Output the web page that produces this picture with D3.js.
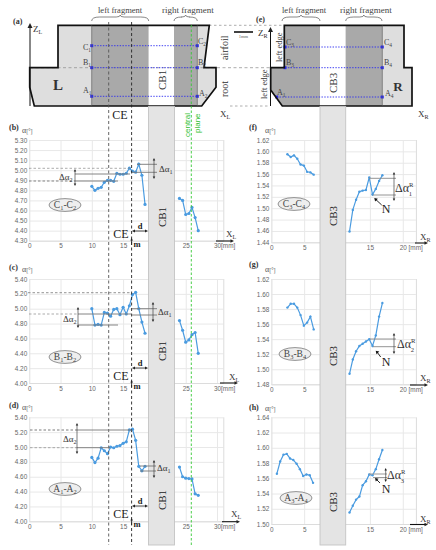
<!DOCTYPE html>
<html>
<head>
<meta charset="utf-8">
<script src="https://cdnjs.cloudflare.com/ajax/libs/d3/7.8.5/d3.min.js"></script>
<style>
  html, body { margin: 0; padding: 0; background: #fff; }
  svg { display: block; }
  text { font-family: "Liberation Serif", serif; fill: #333; }
  .tick text { font-family: "Liberation Sans", sans-serif; font-size: 6.4px; fill: #666; }
  .tick line { stroke: #e8e8e8; }
  .domain { stroke: #dcdcdc; }
</style>
</head>
<body>
<div id="chart"></div>
<script>
// measured positions along the specimen [mm]
const xLeftL = [10, 10.5, 11, 11.5, 12, 12.5, 13, 13.5, 14, 14.5, 15, 15.5, 16, 16.5, 17, 17.5, 18, 18.5];
const xRightL = [24, 24.5, 25, 25.5, 26, 26.5, 27];
const xLeftR = [2.45, 2.95, 3.45, 3.95, 4.45, 4.95, 5.45, 5.95, 6.45];
const xLeftRh = [0.85, 1.35, 1.85, 2.35, 2.85, 3.35, 3.85, 4.35, 4.85, 5.35, 5.85, 6.35];
const xRightR = [11.9, 12.4, 12.9, 13.4, 13.9, 14.4, 14.9, 15.4, 15.9, 16.4, 16.9];

// alpha values, left side joint
const c1c2Left = [4.84, 4.80, 4.82, 4.83, 4.88, 4.90, 4.90, 4.89, 4.97, 4.96, 4.96, 4.97, 5.02, 4.99, 4.98, 5.06, 4.95, 4.66];
const c1c2Right = [4.72, 4.70, 4.56, 4.57, 4.63, 4.53, 4.40];
const b1b2Left = [5.00, 4.78, 4.79, 4.78, 4.95, 4.94, 4.90, 4.99, 5.00, 4.92, 5.02, 4.93, 5.04, 5.19, 5.22, 5.00, 4.82, 4.67];
const b1b2Right = [4.84, 4.71, 4.55, 4.58, 4.65, 4.68, 4.40];
const a1a2Left = [4.86, 4.79, 4.85, 4.99, 4.95, 4.91, 5.00, 4.99, 5.01, 5.02, 5.05, 5.07, 5.23, 5.24, 5.09, 4.74, 4.68, 4.74];
const a1a2Right = [4.73, 4.60, 4.58, 4.575, 4.57, 4.37, 4.35];

// alpha values, right side joint
const c3c4Left = [1.595, 1.590, 1.593, 1.587, 1.577, 1.575, 1.564, 1.563, 1.559];
const c3c4Right = [1.459, 1.497, 1.515, 1.529, 1.531, 1.532, 1.554, 1.524, 1.534, 1.548, 1.558];
const b3b4Left = [1.582, 1.587, 1.587, 1.582, 1.572, 1.558, 1.562, 1.570, 1.553];
const b3b4Right = [1.494, 1.513, 1.524, 1.531, 1.534, 1.537, 1.540, 1.531, 1.545, 1.570, 1.588];
const a3a4Left = [1.566, 1.582, 1.591, 1.592, 1.586, 1.584, 1.579, 1.572, 1.563, 1.565, 1.564, 1.554];
const a3a4Right = [1.515, 1.524, 1.532, 1.536, 1.551, 1.556, 1.565, 1.564, 1.572, 1.585, 1.597];

// tick labels
const xTicksL = [0, 5, 10, 15, 20, 25, 30];
const xTicksR = [0, 5, 10, 15, 20];
const yTicksB = [4.30, 4.40, 4.50, 4.60, 4.70, 4.80, 4.90, 5.00, 5.10, 5.20, 5.30];
const yTicksCD = [4.00, 4.20, 4.40, 4.60, 4.80, 5.00, 5.20, 5.40];
const yTicksF = [1.44, 1.46, 1.48, 1.50, 1.52, 1.54, 1.56, 1.58, 1.60, 1.62];
const yTicksG = [1.48, 1.50, 1.52, 1.54, 1.56, 1.58, 1.60, 1.62];
const yTicksH = [1.50, 1.52, 1.54, 1.56, 1.58, 1.60, 1.62, 1.64];

const svg = d3.select("#chart").append("svg").attr("width", 436).attr("height", 550);

const lineBlue = "#4a9be0", gridGreen = "#35c935", blue = "#2b2bf0";

// text with optional subscript / superscript
function label(x, y, base, opts) {
  opts = opts || {};
  const size = opts.size || 9;
  const t = svg.append("text").attr("x", x).attr("y", y).attr("font-size", size)
    .attr("text-anchor", opts.anchor || "start")
    .attr("font-weight", opts.bold ? "bold" : null)
    .style("fill", opts.color || null)
    .text(base);
  if (opts.rotate) t.attr("transform", `rotate(-90 ${x} ${y})`);
  if (opts.sup) {
    t.append("tspan").attr("font-size", size * 0.55).attr("dy", -size * 0.4).text(opts.sup);
    t.append("tspan").attr("font-size", size * 0.55).attr("dy", size * 0.75).attr("dx", -size * 0.38).text(opts.sub);
  } else if (opts.sub) {
    t.append("tspan").attr("font-size", size * 0.68).attr("dy", size * 0.25).text(opts.sub);
    if (opts.rest) t.append("tspan").attr("dy", -size * 0.25).text(opts.rest);
    if (opts.sub2) t.append("tspan").attr("font-size", size * 0.68).attr("dy", size * 0.25).text(opts.sub2);
  }
  return t;
}

function seg(x1, y1, x2, y2, color, w, dash) {
  svg.append("line").attr("x1", x1).attr("y1", y1).attr("x2", x2).attr("y2", y2)
    .attr("stroke", color || "#777").attr("stroke-width", w || 0.8)
    .attr("stroke-dasharray", dash || null);
}

function arrowHead(x, y, dir, size, color) {
  const s = size || 3, c = color || "#222";
  const pts = {
    up: [[x, y], [x - s / 2, y + s], [x + s / 2, y + s]],
    down: [[x, y], [x - s / 2, y - s], [x + s / 2, y - s]],
    left: [[x, y], [x + s, y - s / 2], [x + s, y + s / 2]],
    right: [[x, y], [x - s, y - s / 2], [x - s, y + s / 2]]
  }[dir];
  svg.append("path").attr("d", d3.line()(pts) + "Z").attr("fill", c);
}

function brace(x0, x1, y) {
  const mid = (x0 + x1) / 2;
  svg.append("path")
    .attr("d", `M${x0},${y + 5} Q${x0},${y + 1} ${x0 + 8},${y + 1} L${mid - 4},${y + 1} Q${mid},${y + 1} ${mid},${y - 1} Q${mid},${y + 1} ${mid + 4},${y + 1} L${x1 - 8},${y + 1} Q${x1},${y + 1} ${x1},${y + 5}`)
    .attr("fill", "none").attr("stroke", "#555").attr("stroke-width", 0.7);
}

function panelPlot(cfg) {
  const x = d3.scaleLinear().domain(cfg.xDomain).range(cfg.xRange);
  const y = d3.scaleLinear().domain(cfg.yDomain).range(cfg.yRange);
  const left = cfg.xRange[0], right = cfg.xRange[1], bottom = cfg.yRange[0], top = cfg.yRange[1];

  const gy = svg.append("g").attr("transform", `translate(${left},0)`)
    .call(d3.axisLeft(y).tickValues(cfg.yTicks).tickFormat(d3.format(".2f")).tickSize(-(right - left)).tickPadding(2));
  gy.select(".domain").remove();

  const gx = svg.append("g").attr("transform", `translate(0,${bottom})`)
    .call(d3.axisBottom(x).tickValues(cfg.xTicks).tickFormat(d3.format("d")).tickSize(-(bottom - top)).tickPadding(3));
  gx.selectAll(".tick").filter(d => d === cfg.xTicks[cfg.xTicks.length - 1]).select("text")
    .text(d => d + cfg.unit).attr("text-anchor", "start").attr("x", -3.6);
  return { x, y };
}

function series(p, xs, ys, r) {
  const pts = xs.map((d, i) => [d, ys[i]]);
  svg.append("path").attr("fill", "none").attr("stroke", lineBlue).attr("stroke-width", 1.2)
    .attr("d", d3.line().x(d => p.x(d[0])).y(d => p.y(d[1]))(pts));
  svg.append("g").selectAll("circle").data(pts).join("circle")
    .attr("cx", d => p.x(d[0])).attr("cy", d => p.y(d[1])).attr("r", r).attr("fill", lineBlue);
}

// ---- charts ----
const lX = { xDomain: [0, 31], xRange: [29.2, 223.3], xTicks: xTicksL, unit: "[mm]" };
const rX = { xDomain: [0, 22], xRange: [271.3, 415.9], xTicks: xTicksR, unit: " [mm]" };

const pB = panelPlot({ ...lX, yDomain: [4.30, 5.30], yRange: [240.7, 140], yTicks: yTicksB });
const pC = panelPlot({ ...lX, yDomain: [4.00, 5.40], yRange: [383, 279], yTicks: yTicksCD });
const pD = panelPlot({ ...lX, yDomain: [4.00, 5.40], yRange: [521.3, 417.3], yTicks: yTicksCD });
const pF = panelPlot({ ...rX, yDomain: [1.44, 1.62], yRange: [242.3, 140], yTicks: yTicksF });
const pG = panelPlot({ ...rX, yDomain: [1.48, 1.62], yRange: [384.3, 279], yTicks: yTicksG });
const pH = panelPlot({ ...rX, yDomain: [1.50, 1.64], yRange: [524, 417.3], yTicks: yTicksH });

// ---- diagram (a) ----
const outlineA = [[58, 25.3], [209.3, 25.3], [204, 67.7], [216, 67.7], [216, 87.3], [201.7, 106], [34.3, 106], [29.7, 87.3], [29.7, 67.7], [58, 67.7]];
const outlineE = [[284.3, 25.3], [404, 25.3], [404, 67.7], [412, 67.7], [412, 106], [282.3, 106], [270.7, 90], [270.7, 67.7], [284.3, 67.7]];
const polyPath = d3.line().curve(d3.curveLinearClosed);

svg.append("path").attr("d", polyPath(outlineA)).attr("fill", "#dedede");
svg.append("rect").attr("x", 91.7).attr("y", 25.3).attr("width", 57).attr("height", 80.7).attr("fill", "#a9a9a9");
svg.append("rect").attr("x", 148.7).attr("y", 25.3).attr("width", 25.3).attr("height", 80.7).attr("fill", "#fff");
svg.append("rect").attr("x", 174).attr("y", 25.3).attr("width", 23.3).attr("height", 80.7).attr("fill", "#a9a9a9");

svg.append("path").attr("d", polyPath(outlineE)).attr("fill", "#dedede");
svg.append("path").attr("d", polyPath([[284.3, 25.3], [320, 25.3], [320, 106], [282.3, 106], [270.7, 90], [270.7, 67.7], [284.3, 67.7]])).attr("fill", "#a9a9a9");
svg.append("rect").attr("x", 320).attr("y", 25.3).attr("width", 25.7).attr("height", 80.7).attr("fill", "#fff");
svg.append("rect").attr("x", 345.7).attr("y", 25.3).attr("width", 36.6).attr("height", 80.7).attr("fill", "#a9a9a9");

// guide lines between the two diagrams
seg(209, 25.3, 284, 25.3, "#999", 0.8, "2.5 2.5");
seg(30, 67.7, 300, 67.7, "#888", 0.7, "3 2.5");
seg(230, 106, 270, 106, "#999", 0.8, "2.5 2.5");

// blue measuring lines
[[91.7, 197.3, 45.7], [91.7, 197.3, 67.7], [91.7, 197.3, 96.3], [285, 382.3, 47], [285, 382.3, 67.7], [276.7, 382.3, 97]].forEach(d => {
  seg(d[0], d[2], d[1], d[2], blue, 0.9, "1.4 1.4");
  [d[0], d[1]].forEach(px => svg.append("rect").attr("x", px - 1.5).attr("y", d[2] - 1.5).attr("width", 3).attr("height", 3).attr("fill", blue));
});

svg.append("path").attr("d", polyPath(outlineA)).attr("fill", "none").attr("stroke", "#111").attr("stroke-width", 1.7);
svg.append("path").attr("d", polyPath(outlineE)).attr("fill", "none").attr("stroke", "#111").attr("stroke-width", 1.7);

// separating edges
seg(91.7, 25.3, 91.7, 106, "#555", 0.6);
seg(197.3, 25.3, 197.3, 106, "#555", 0.6);
seg(382.3, 25.3, 382.3, 106, "#555", 0.6);

// coordinate axes of the diagrams
seg(30, 106, 30, 27, "#111", 1);
arrowHead(30, 23, "up", 5);
seg(270.5, 106, 270.5, 30, "#111", 1);
arrowHead(270.5, 27, "up", 5);

label(13, 24, "(a)", { size: 8, bold: true });
label(33, 32, "Z", { size: 9, sub: "L" });
label(98, 13, "left fragment", { size: 8.5, color: "#444" });
label(162, 13, "right fragment", { size: 9, color: "#444" });
brace(91.7, 148.7, 16);
brace(174, 197.3, 16);
label(53, 90, "L", { size: 15, bold: true });
label(166, 90, "CB1", { size: 11, rotate: true });
label(83, 50, "C", { size: 8, sub: "1", color: "#444" });
label(83, 65, "B", { size: 8, sub: "1", color: "#444" });
label(83, 93, "A", { size: 8, sub: "1", color: "#444" });
label(198, 44, "C", { size: 8, sub: "2", color: "#444" });
label(198, 65, "B", { size: 8, sub: "2", color: "#444" });
label(199, 96, "A", { size: 8, sub: "2", color: "#444" });
label(228, 60, "airfoil", { size: 10, rotate: true, color: "#333" });
label(228, 97, "root", { size: 10, rotate: true, color: "#333" });
label(220, 117, "X", { size: 9, sub: "L" });
seg(234, 32, 253, 32, "#111", 1.6);
label(243.5, 38, "1mm", { size: 4.5, anchor: "middle", color: "#555" });

// diagram (e) labels
label(256, 22, "(e)", { size: 8, bold: true });
label(258, 36, "Z", { size: 9, sub: "R" });
label(282, 13, "left fragment", { size: 8.5, color: "#444" });
label(340, 13, "right fragment", { size: 9, color: "#444" });
brace(282, 320, 16);
brace(345.7, 382, 16);
label(398, 91, "R", { size: 13, bold: true, anchor: "middle" });
label(337, 93, "CB3", { size: 11, rotate: true });
label(282, 62, "left edge", { size: 8.5, rotate: true, color: "#333" });
label(267, 99, "left edge", { size: 8.5, rotate: true, color: "#333" });
label(286, 45, "C", { size: 8, sub: "3", color: "#444" });
label(286, 65, "B", { size: 8, sub: "3", color: "#444" });
label(277, 95, "A", { size: 8, sub: "1", color: "#444" });
label(384, 45, "C", { size: 8, sub: "4", color: "#444" });
label(384, 65, "B", { size: 8, sub: "4", color: "#444" });
label(385, 96, "A", { size: 8, sub: "4", color: "#444" });
label(418, 117, "X", { size: 9, sub: "R" });

// ---- grey bands of the CB regions ----
[[148.5, 174.5], [320, 345.7]].forEach(b => {
  svg.append("rect").attr("x", b[0]).attr("y", 106.5).attr("width", b[1] - b[0]).attr("height", 438.5)
    .attr("fill", "#e4e4e4").attr("stroke", "#c4c4c4").attr("stroke-width", 0.9);
});

// ---- series ----
series(pB, xLeftL, c1c2Left, 1.6);
series(pB, xRightL, c1c2Right, 1.6);
series(pC, xLeftL, b1b2Left, 1.6);
series(pC, xRightL, b1b2Right, 1.6);
series(pD, xLeftL, a1a2Left, 1.6);
series(pD, xRightL, a1a2Right, 1.6);
series(pF, xLeftR, c3c4Left, 1.2);
series(pF, xRightR, c3c4Right, 1.2);
series(pG, xLeftR, b3b4Left, 1.2);
series(pG, xRightR, b3b4Right, 1.2);
series(pH, xLeftRh, a3a4Left, 1.2);
series(pH, xRightR, a3a4Right, 1.2);

// ---- CE boundaries and central plane run through the left column ----
seg(108.7, 22, 108.7, 545, "#555", 0.9, "3 2.5");
seg(131.6, 22, 131.6, 545, "#222", 0.9, "3 2.5");
seg(191.3, 25, 191.3, 545, gridGreen, 0.9, "2.5 2");
label(120, 119, "CE", { size: 12, anchor: "middle", color: "#222" });
label(190, 137, "central", { size: 8, rotate: true, color: "#2fbf2f" }).style("font-family", "Liberation Sans");
label(200, 133, "plane", { size: 8, rotate: true, color: "#2fbf2f" }).style("font-family", "Liberation Sans");

// ---- annotations per panel ----
function leftNotes(n) {
  label(9, n.letterY, n.letter, { size: 8, bold: true });
  label(22, n.alphaY, "α", { size: 8, color: "#555" }).append("tspan").attr("font-size", 6).text("[°]");
  svg.append("ellipse").attr("cx", 65).attr("cy", n.ellY).attr("rx", 16).attr("ry", 6.4)
    .attr("fill", "#eee").attr("stroke", "#666").attr("stroke-width", 0.7);
  label(65, n.ellY + 3, n.name[0], { size: 9.5, anchor: "middle", sub: n.name[1], rest: "-" + n.name[2], sub2: n.name[3], color: "#444" });
  label(121, n.ceY, "CE", { size: 12, anchor: "middle", color: "#222" });
  seg(134, n.dY, 146, n.dY, "#222", 0.8);
  arrowHead(132, n.dY, "left", 3);
  arrowHead(148, n.dY, "right", 3);
  label(140, n.dY - 2.5, "d", { size: 8.5, bold: true, anchor: "middle", color: "#222" });
  label(133.5, n.mY, "m", { size: 8.5, bold: true, color: "#222" });
  seg(131.6, n.mY - 7, 131.6, n.mY - 2, "#222", 0.9);
  arrowHead(131.6, n.mY - 9, "up", 2.5);
  label(166, n.cbY, "CB1", { size: 11, rotate: true, anchor: "middle", color: "#222" });
  label(n.xlX, n.xlY, "X", { size: 9, sub: "L" });
  seg(n.arrow[0], n.arrow[2], n.arrow[1] - 3, n.arrow[2], "#111", 1.1);
  arrowHead(n.arrow[1], n.arrow[2], "right", 3.5);
}

function dAlpha(x, y1, y2) {
  seg(x, y1 + 2, x, y2 - 2, "#444", 0.7);
  arrowHead(x, y1, "up", 2.5);
  arrowHead(x, y2, "down", 2.5);
}

leftNotes({ letter: "(b)", letterY: 130, alphaY: 133, name: ["C", "1", "C", "2"], ellY: 205, ceY: 238, dY: 231, mY: 247, cbY: 217, xlX: 226, xlY: 237, arrow: [216, 234, 241] });
seg(29, 168.3, 130, 168.3, "#888", 0.7, "2.5 2");
seg(29, 181, 75, 181, "#555", 0.7, "2.5 2");
seg(75, 174, 130, 174, "#777", 0.9);
seg(75, 181, 118, 181, "#777", 0.9);
dAlpha(75, 169, 186);
label(59, 180, "Δα", { size: 9, sub: "2", color: "#333" });
seg(137, 164.3, 157, 164.3, "#777", 0.9);
seg(132, 172.3, 157, 172.3, "#777", 0.9);
dAlpha(154, 158, 179);
label(159, 172, "Δα", { size: 9, sub: "1", color: "#333" });

leftNotes({ letter: "(c)", letterY: 270, alphaY: 272, name: ["B", "1", "B", "2"], ellY: 357, ceY: 380, dY: 368, mY: 389, cbY: 351, xlX: 229, xlY: 380, arrow: [220, 238, 383] });
seg(28, 292.7, 131, 292.7, "#666", 0.7, "2.5 2");
seg(29, 314, 78, 314, "#888", 0.7, "2.5 2");
seg(78, 314, 131, 314, "#777", 0.9);
seg(78, 325, 118, 325, "#777", 0.9);
dAlpha(78, 307, 328);
label(63, 322, "Δα", { size: 9, sub: "2", color: "#333" });
seg(132, 308.7, 157, 308.7, "#777", 0.9);
seg(132, 315, 157, 315, "#777", 0.9);
dAlpha(153, 302, 322);
label(158, 315, "Δα", { size: 9, sub: "1", color: "#333" });

leftNotes({ letter: "(d)", letterY: 408, alphaY: 410, name: ["A", "1", "A", "2"], ellY: 489, ceY: 518, dY: 506, mY: 527, cbY: 500, xlX: 231, xlY: 517, arrow: [222, 240, 521.7] });
seg(30, 430, 77, 430, "#444", 0.7, "2.5 2");
seg(77, 430, 132, 430, "#777", 0.9);
seg(30, 447.7, 77, 447.7, "#888", 0.7, "2.5 2");
seg(77, 447.7, 110, 447.7, "#777", 0.9);
dAlpha(77, 423, 454);
label(63, 442, "Δα", { size: 9, sub: "2", color: "#333" });
seg(140, 466, 156, 466, "#777", 0.9);
seg(140, 471, 156, 471, "#777", 0.9);
dAlpha(154, 460, 478);
label(157, 471, "Δα", { size: 9, sub: "1", color: "#333" });

function rightNotes(n) {
  label(249, n.letterY, n.letter, { size: 8, bold: true });
  label(265, n.alphaY, "α", { size: 8, color: "#555" }).append("tspan").attr("font-size", 6).text("[°]");
  svg.append("ellipse").attr("cx", n.ellX).attr("cy", n.ellY).attr("rx", 16).attr("ry", 6.4)
    .attr("fill", "#eee").attr("stroke", "#666").attr("stroke-width", 0.7);
  label(n.ellX, n.ellY + 3, n.name[0], { size: 9.5, anchor: "middle", sub: n.name[1], rest: "-" + n.name[2], sub2: n.name[3], color: "#444" });
  label(337, n.cbY, "CB3", { size: 11, rotate: true, anchor: "middle", color: "#222" });
  label(386, n.nY, "N", { size: 12, anchor: "middle", color: "#222" });
  seg(n.nArrow[0], n.nArrow[1], n.nArrow[2] + 1.5, n.nArrow[3] + 1.5, "#111", 0.9);
  svg.append("path").attr("d", d3.line()([[n.nArrow[2], n.nArrow[3]], [n.nArrow[2] + 3.6, n.nArrow[3] + 0.8], [n.nArrow[2] + 0.8, n.nArrow[3] + 3.6]]) + "Z").attr("fill", "#111");
  label(n.xrX, n.xrY, "X", { size: 9, sub: "R" });
  seg(n.arrow[0], n.arrow[2], n.arrow[1] - 3, n.arrow[2], "#111", 1.1);
  arrowHead(n.arrow[1], n.arrow[2], "right", 3.5);
  label(n.daX, n.daY, "Δα", { size: 12, sup: "R", sub: n.daSub, color: "#333" });
}

rightNotes({ letter: "(f)", letterY: 130, alphaY: 133, name: ["C", "3", "C", "4"], ellX: 294, ellY: 204, cbY: 216, nY: 213, nArrow: [381.7, 205, 374.3, 198], xrX: 420, xrY: 240, arrow: [415, 428, 243], daX: 395, daY: 192, daSub: "1" });
seg(369, 178.3, 396, 178.3, "#888", 0.9);
seg(372.7, 195, 396, 195, "#888", 0.9);
dAlpha(394, 172, 201);

rightNotes({ letter: "(g)", letterY: 267, alphaY: 272, name: ["B", "3", "B", "4"], ellX: 295, ellY: 354, cbY: 356, nY: 366, nArrow: [380.7, 357, 375.7, 350.7], xrX: 420, xrY: 381, arrow: [410, 428, 385], daX: 397, daY: 348, daSub: "2" });
seg(370, 339, 396, 339, "#888", 0.9);
seg(373, 346.7, 396, 346.7, "#888", 0.9);
dAlpha(394, 333, 354);

rightNotes({ letter: "(h)", letterY: 410, alphaY: 411, name: ["A", "3", "A", "4"], ellX: 296, ellY: 498, cbY: 502, nY: 493, nArrow: [380, 483, 375, 478], xrX: 420, xrY: 522, arrow: [410, 428, 524.5], daX: 387, daY: 479, daSub: "3" });
seg(369, 474, 387, 474, "#999", 1);
seg(373, 477.5, 387, 477.5, "#999", 1);
dAlpha(385.7, 468, 482);
</script>
</body>
</html>
